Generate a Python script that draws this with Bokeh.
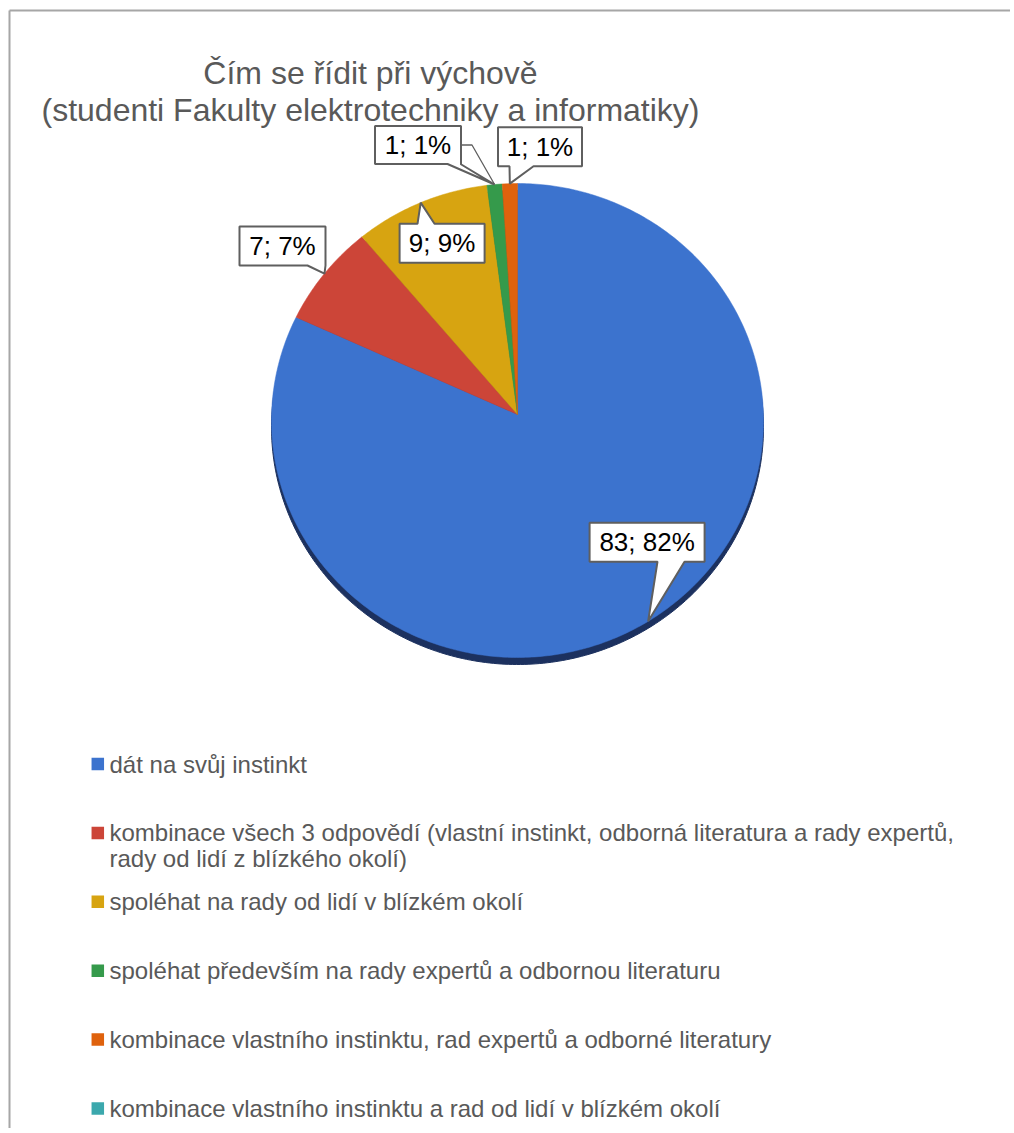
import numpy as np
from bokeh.plotting import figure
from bokeh.models import Range1d
from bokeh.embed import file_html
from bokeh.resources import INLINE
from bokeh.core.properties import value

# ---------------- data ----------------
title_lines = ["Čím se řídit při výchově",
               "(studenti Fakulty elektrotechniky a informatiky)"]
categories = [
    "dát na svůj instinkt",
    "kombinace všech 3 odpovědí (vlastní instinkt, odborná literatura a rady expertů,\nrady od lidí z blízkého okolí)",
    "spoléhat na rady od lidí v blízkém okolí",
    "spoléhat především na rady expertů a odbornou literaturu",
    "kombinace vlastního instinktu, rad expertů a odborné literatury",
    "kombinace vlastního instinktu a rad od lidí v blízkém okolí",
]
counts = [83, 7, 9, 1, 1, 0]
colors = ["#3C73CE", "#CC4538", "#D7A411", "#359A4B", "#DF620D", "#3BA8AD"]

# ---------------- layout (page pixel coordinates) ----------------
FONT = "Liberation Sans"
CX, CY, RX, RY = 517, 420, 246, 237      # pie ellipse
AX, AY = 517, 414                        # apex (3D look)
SHADOW_DY = 7
# label boxes: centre x, centre y, width, height, pointer side, pointer base x0, x1
label_layout = [
    (646.6, 541.7, 115, 39, "bottom", 657, 684),
    (282.0, 245.5, 86, 39, "bottom", 307, 325),
    (441.6, 242.8, 85, 39, "top", 417, 434),
    (417.5, 144.5, 86, 38, "bottom", 447, 460),
    (539.5, 146.2, 84, 39, "bottom", 509, 533),
    None,
]
LEG_SQ_X, LEG_TXT_X, LEG_Y0, LEG_DY, LEG_LINE = 97.3, 109, 763.5, 68.9, 26

W, H = 1010, 1128
p = figure(width=W, height=H, x_range=Range1d(0, W), y_range=Range1d(H, 0),
           output_backend="svg", toolbar_location=None, min_border=0,
           x_axis_location=None, y_axis_location=None)
p.grid.visible = False
p.outline_line_color = None
p.background_fill_color = "white"
p.border_fill_color = "white"

# chart-area frame (left and top edges visible)
p.line([9, 9], [H, 10], line_color="#A6A6A6", line_width=2)
p.line([9, W], [10, 10], line_color="#A6A6A6", line_width=2)

# ---------------- pie ----------------
total = sum(counts)
frac = np.array(counts, dtype=float) / total
cum = np.concatenate([[0.0], np.cumsum(frac)])
start = np.deg2rad(90 - 360 * cum[:-1])
end = np.deg2rad(90 - 360 * cum[1:])

# 3D side (shadow)
tt = np.linspace(0, 2 * np.pi, 400)
p.patch(CX + RX * np.cos(tt), CY + SHADOW_DY - RY * np.sin(tt),
        fill_color="#1C315F", line_color="#1C315F")

xs, ys, fc = [], [], []
for i, c in enumerate(counts):
    if c == 0:
        continue
    n = max(4, int(abs(end[i] - start[i]) * 80))
    t = np.linspace(start[i], end[i], n)
    xs.append([AX] + list(CX + RX * np.cos(t)))
    ys.append([AY] + list(CY - RY * np.sin(t)))
    fc.append(colors[i])
p.patches(xs, ys, fill_color=fc, line_color=fc, line_width=0.5)

# ---------------- data labels (callouts) ----------------
mid = (start + end) / 2
cx_list, cy_list, lx, ly, txt = [], [], [], [], []
for i, c in enumerate(counts):
    lay = label_layout[i]
    if lay is None or c == 0:
        continue
    bx, by, bw, bh, side, b0, b1 = lay
    tipx = CX + RX * np.cos(mid[i])
    tipy = CY - RY * np.sin(mid[i])
    x0, x1 = bx - bw / 2, bx + bw / 2
    y0, y1 = by - bh / 2, by + bh / 2
    if side == "bottom":
        px = [x0, x1, x1, b1, tipx, b0, x0]
        py = [y0, y0, y1, y1, tipy, y1, y1]
    else:
        px = [x0, b0, tipx, b1, x1, x1, x0]
        py = [y0, y0, tipy, y0, y0, y1, y1]
    cx_list.append(px)
    cy_list.append(py)
    lx.append(bx)
    ly.append(by)
    txt.append(f"{c}; {round(100 * c / total)}%")
    if i == 3:
        p.line([x1, x1 + 11, tipx], [by, by, tipy], line_color="#5F5F5F", line_width=1.3)

p.patches(cx_list, cy_list, fill_color="white", line_color="#5F5F5F", line_width=2)
p.text(x=lx, y=ly, text=txt, text_font=value(FONT), text_font_size="26px",
       text_color="black", text_align="center", text_baseline="middle")

# ---------------- title ----------------
p.text(x=[370, 370], y=[72, 109], text=title_lines, text_font=value(FONT),
       text_font_size="32px", text_color="#595959", text_align="center",
       text_baseline="alphabetic")

# ---------------- legend ----------------
sq_y, t_x, t_y, t_txt = [], [], [], []
for i, cat in enumerate(categories):
    yc = LEG_Y0 + i * LEG_DY
    sq_y.append(yc)
    for j, line in enumerate(cat.split("\n")):
        t_x.append(LEG_TXT_X)
        t_y.append(yc + j * LEG_LINE)
        t_txt.append(line)
p.rect(x=[LEG_SQ_X] * len(categories), y=sq_y, width=12.5, height=12.5,
       fill_color=colors, line_color=None)
p.text(x=t_x, y=t_y, text=t_txt, text_font=value(FONT), text_font_size="24px",
       text_color="#595959", text_align="left", text_baseline="middle")

open("out.html", "w").write(file_html(p, INLINE))
